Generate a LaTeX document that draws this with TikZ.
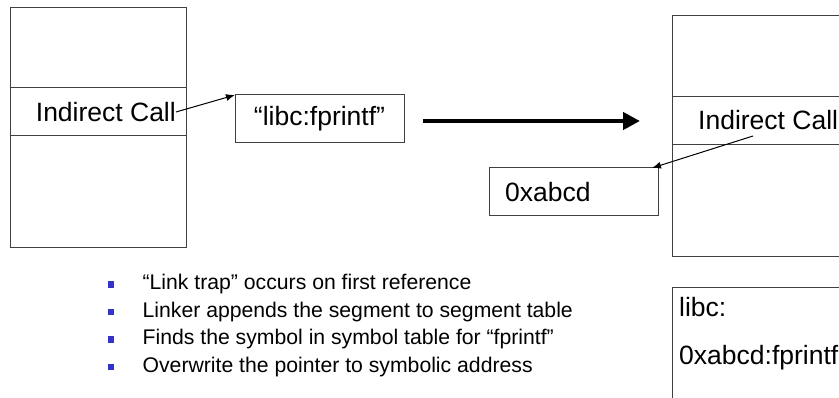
\documentclass[tikz,border=0pt]{standalone}
\usepackage{fontspec}
\setmainfont{Liberation Sans}
\usetikzlibrary{arrows.meta,positioning}
\definecolor{bulletblue}{RGB}{51,51,204}
\definecolor{framegray}{RGB}{64,64,64}

\begin{document}
\begin{tikzpicture}[x=1pt,y=-1pt,
    box/.style={draw=framegray,line width=1pt,inner sep=0pt,outer sep=0pt},
    lbl/.style={font=\fontsize{26.5}{30}\selectfont,inner sep=0pt},
    item/.style={font=\fontsize{21.2}{25}\selectfont,inner sep=0pt,anchor=west},
    ptr/.style={-{Latex[length=9pt,width=7pt]},line width=1pt},
    bigptr/.style={-{Triangle[length=17pt,width=17pt]},line width=4.5pt},
    bul/.style={fill=bulletblue,minimum size=6.5pt,inner sep=0pt}]
    \clip (0,0) rectangle (839,398);
    % before
    \node[box,minimum width=176pt,minimum height=240pt] (lmem) at (98,128) {};
    \node[box,minimum width=176pt,minimum height=48pt] (lcall) at (98,112) {};
    \node[lbl,anchor=east] (lcalltxt) at (176,112) {Indirect Call};
    \node[box,minimum width=169pt,minimum height=48pt,lbl] (sym) at (319.5,119) {“libc:fprintf”};
    \draw[ptr] (lcalltxt.east) -- (sym.north west);
    \coordinate (go) at (423,121);
    \coordinate (done) at (640,121);
    \draw[bigptr] (go) -- (done);
    % after
    \node[box,minimum width=200pt,minimum height=241pt,anchor=north west] (rmem) at (672,16) {};
    \node[box,minimum width=200pt,minimum height=48pt,anchor=north west] (rcall) at (672,97) {};
    \node[lbl,anchor=west] (rcalltxt) at (698,120) {Indirect Call};
    \node[box,minimum width=169pt,minimum height=48pt] (addr) at (573.5,192) {};
    \node[lbl,anchor=west] (addrtxt) at (505,192) {0xabcd};
    \coordinate (rsrc) at (753,136);
    \draw[ptr] (rsrc) -- ([xshift=-6pt]addr.north east);
    \node[box,minimum width=200pt,minimum height=150pt,anchor=north west] (libtab) at (672,288) {};
    \node[lbl,anchor=west] (libname) at (679,307) {libc:};
    \node[lbl,anchor=west] (libsym) at (679,358) {0xabcd:fprintf};
    % steps
    \foreach \t [count=\i] in {“Link trap” occurs on first reference,
        Linker appends the segment to segment table,
        Finds the symbol in symbol table for “fprintf”,
        Overwrite the pointer to symbolic address} {
        \node[bul] (b\i) at (111,257+27.5*\i) {};
        \node[item,right=28pt of b\i] (t\i) {\t};
    }
\end{tikzpicture}
\end{document}
